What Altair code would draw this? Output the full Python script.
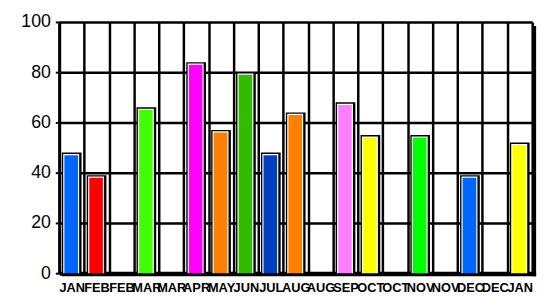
import altair as alt
import pandas as pd

labels = ["JAN", "FEB", "FEB", "MAR", "MAR", "APR", "MAY", "JUN", "JUL", "AUG",
          "AUG", "SEP", "OCT", "OCT", "NOV", "NOV", "DEC", "DEC", "JAN"]
values = [48, 39, None, 66, None, 84, 57, 80, 48, 64,
          None, 68, 55, None, 55, None, 39, None, 52]
colors = ["#0066ff", "#ff0000", None, "#44ff00", None, "#ff00ff", "#ff8000", "#33bb00", "#003fbf", "#ff8000",
          None, "#ff80ff", "#ffff00", None, "#00ff00", None, "#0066ff", None, "#ffff00"]

W, H = 480, 255

df = pd.DataFrame({"idx": list(range(len(labels))), "value": values, "color": colors})
bars_df = df.dropna()

label_arr = "[" + ",".join("'%s'" % l for l in labels) + "]"

xscale = alt.Scale(domain=list(range(len(labels))), paddingInner=0, paddingOuter=0)
yscale = alt.Scale(domain=[0, 100])

xenc = alt.X("idx:O", scale=xscale, sort=None,
             axis=alt.Axis(title=None, labelExpr=label_arr + "[datum.value]", labelAngle=0,
                           labelFont="Liberation Sans", labelFontWeight="bold", labelFontSize=13,
                           labelColor="black", labelOverlap=False, labelPadding=9,
                           ticks=False, domainColor="black", domainWidth=4,
                           grid=True, gridColor="black", gridWidth=2.5, gridOpacity=1,
                           tickBand="extent"))
yenc = alt.Y("value:Q", scale=yscale,
             axis=alt.Axis(title=None, values=[0, 20, 40, 60, 80, 100], labelFont="Liberation Sans",
                           labelFontSize=18, labelColor="black", labelPadding=5, tickSize=4,
                           tickColor="black", tickWidth=2, domainColor="black", domainWidth=3,
                           grid=True, gridColor="black", gridWidth=2.5, gridOpacity=1))

base = alt.Chart(bars_df)

black = base.mark_bar(size=20, color="black").encode(x=xenc, y=yenc)
colored = base.mark_bar(size=15, stroke="white", strokeWidth=1.2, yOffset=2, xOffset=-0.5).encode(
    x=alt.X("idx:O", scale=xscale, sort=None),
    y=alt.Y("value:Q", scale=yscale),
    color=alt.Color("color:N", scale=None),
)

shadow_df = pd.DataFrame({"k": [0]})
right_shadow = alt.Chart(shadow_df).mark_rect(color="black").encode(
    x=alt.value(W), x2=alt.value(W + 4), y=alt.value(4), y2=alt.value(H + 3))
bottom_shadow = alt.Chart(shadow_df).mark_rect(color="black").encode(
    x=alt.value(3), x2=alt.value(W + 4), y=alt.value(H), y2=alt.value(H + 3))

chart = alt.layer(black, colored, right_shadow, bottom_shadow).properties(
    width=W, height=H,
    autosize=alt.AutoSizeParams(type="none"),
    padding={"left": 52, "top": 12, "right": 12, "bottom": 20},
).configure_view(stroke="black", strokeWidth=2, fill="white").configure(background="white")

chart.save("out.html", embed_options={"renderer": "svg", "actions": False})
